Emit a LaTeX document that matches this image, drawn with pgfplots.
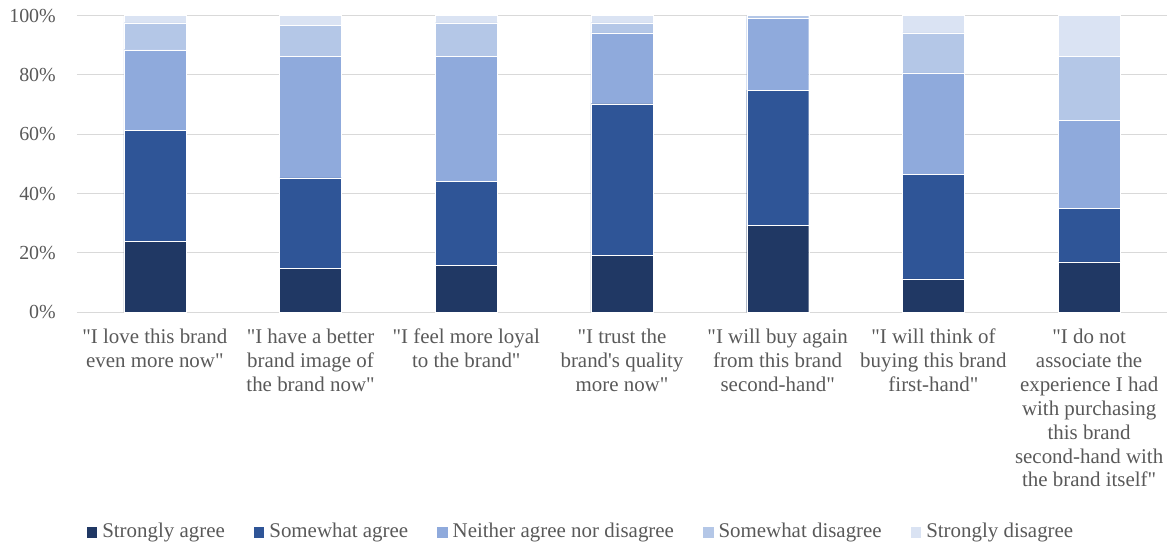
\documentclass[border=0pt]{standalone}
\usepackage{fontspec}
\setmainfont{Liberation Serif}
\usepackage{pgfplots}
\pgfplotsset{compat=1.18}
\definecolor{cSA}{HTML}{203864}
\definecolor{cSwA}{HTML}{2F5597}
\definecolor{cN}{HTML}{8FAADC}
\definecolor{cSwD}{HTML}{B4C7E7}
\definecolor{cSD}{HTML}{DAE3F3}
\definecolor{txtgray}{HTML}{595959}
\definecolor{gridgray}{HTML}{D9D9D9}
\newcommand{\q}{\textquotedbl}
\begin{document}
\begin{tikzpicture}
\useasboundingbox (-77bp,-234.7bp) rectangle (1092bp,312.3bp);
\begin{axis}[
  at={(0,0)}, anchor=south west,
  width=1090bp, height=296.7bp, scale only axis,
  ybar stacked, bar width=62bp,
  xmin=-0.5, xmax=6.5, ymin=0, ymax=100,
  xtick=data,
  xticklabels={
    {\q I love this brand\\even more now\q},
    {\q I have a better\\brand image of\\the brand now\q},
    {\q I feel more loyal\\to the brand\q},
    {\q I trust the\\brand\textquotesingle s quality\\more now\q},
    {\q I will buy again\\from this brand\\second-hand\q},
    {\q I will think of\\buying this brand\\first-hand\q},
    {\q I do not\\associate the\\experience I had\\with purchasing\\this brand\\second-hand with\\the brand itself\q}
  },
  ytick={0,20,40,60,80,100},
  yticklabels={0\%,20\%,40\%,60\%,80\%,100\%},
  major tick length=0pt,
  axis line style={draw=none},
  ymajorgrids, grid style={gridgray, line width=1bp},
  xticklabel style={anchor=north, inner sep=0pt, yshift=-16.5bp, align=center,
    font=\fontsize{21}{24}\selectfont, text=txtgray},
  yticklabel style={anchor=east, inner sep=0pt, xshift=-21bp,
    font=\fontsize{20}{24}\selectfont, text=txtgray},
  legend columns=5,
  legend image code/.code={\path[#1,draw=none] (0bp,-7bp) rectangle (10.5bp,3.5bp);},
  legend style={at={(0.4615,-0.737)}, anchor=center, draw=none, fill=none,
    inner sep=0pt, outer sep=0pt, nodes={inner sep=0pt},
    font=\fontsize{21}{24}\selectfont, text=txtgray,
    /tikz/every odd column/.append style={column sep=5bp},
    /tikz/every even column/.append style={column sep=29bp}},
  every axis plot/.append style={draw=white, line width=0.4bp},
]
\addplot[fill=cSA] coordinates {(0,24.0) (1,14.8) (2,15.8) (3,19.2) (4,29.2) (5,11.3) (6,17.0)};
\addplot[fill=cSwA] coordinates {(0,37.3) (1,30.5) (2,28.4) (3,51.1) (4,45.7) (5,35.2) (6,18.1)};
\addplot[fill=cN] coordinates {(0,27.2) (1,41.0) (2,42.1) (3,23.9) (4,24.1) (5,34.2) (6,29.7)};
\addplot[fill=cSwD] coordinates {(0,9.1) (1,10.3) (2,11.3) (3,3.4) (4,1.0) (5,13.5) (6,21.5)};
\addplot[fill=cSD] coordinates {(0,2.4) (1,3.4) (2,2.4) (3,2.4) (4,0.0) (5,5.8) (6,13.7)};
\legend{Strongly agree, Somewhat agree, Neither agree nor disagree, Somewhat disagree, Strongly disagree}
\end{axis}
\end{tikzpicture}
\end{document}
